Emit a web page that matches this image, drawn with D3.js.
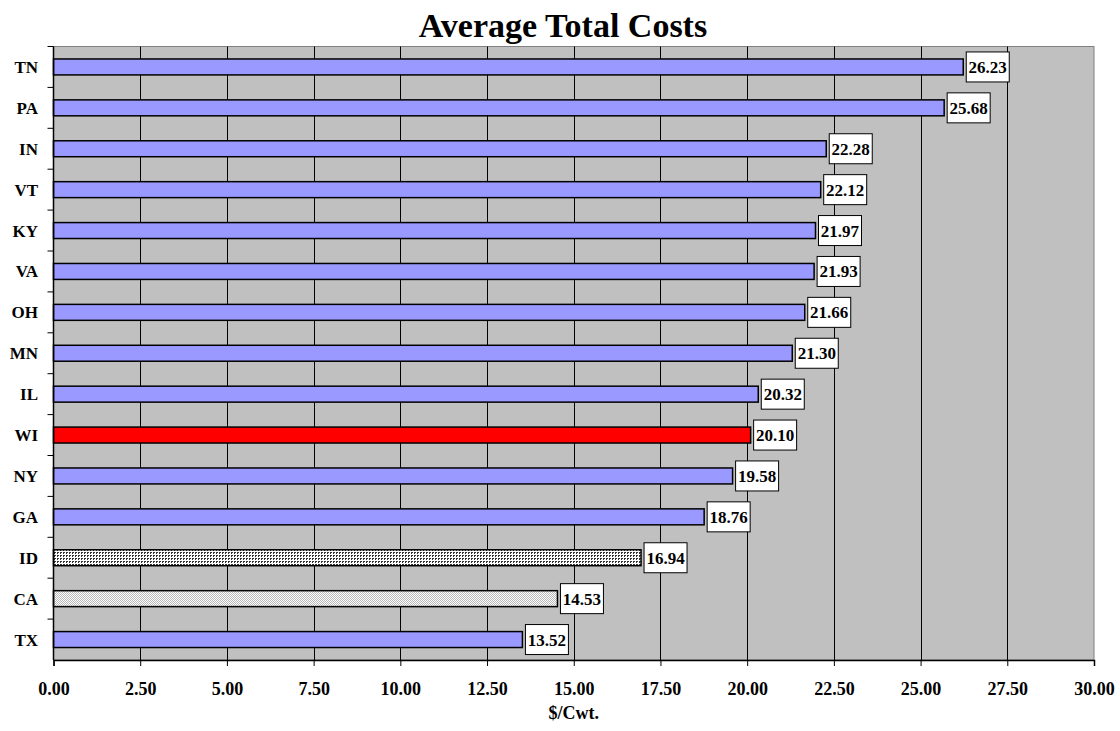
<!DOCTYPE html>
<html>
<head>
<meta charset="utf-8">
<script src="https://cdn.jsdelivr.net/npm/d3@7"></script>
<style>
  body { margin: 0; background: #fff; }
  text { font-family: "Liberation Serif", "Times New Roman", serif; font-weight: bold; fill: #000; }
</style>
</head>
<body>
<div id="chart"></div>
<script>
const states = ["TN", "PA", "IN", "VT", "KY", "VA", "OH", "MN", "IL", "WI", "NY", "GA", "ID", "CA", "TX"];
const costs = [26.23, 25.68, 22.28, 22.12, 21.97, 21.93, 21.66, 21.30, 20.32, 20.10, 19.58, 18.76, 16.94, 14.53, 13.52];
const fills = ["blue", "blue", "blue", "blue", "blue", "blue", "blue", "blue", "blue", "red", "blue", "blue", "dots", "hatch", "blue"];
const xTicks = [0, 2.5, 5, 7.5, 10, 12.5, 15, 17.5, 20, 22.5, 25, 27.5, 30];

const width = 1120, height = 731;
const margin = { top: 46.5, right: 26, bottom: 71, left: 53.5 };

const svg = d3.select("#chart").append("svg")
  .attr("width", width)
  .attr("height", height);

const defs = svg.append("defs");
const dots = defs.append("pattern")
  .attr("id", "dots").attr("patternUnits", "userSpaceOnUse")
  .attr("width", 3).attr("height", 3);
dots.append("rect").attr("width", 3).attr("height", 3).attr("fill", "#fff");
dots.append("rect").attr("width", 2).attr("height", 1).attr("fill", "#333");
dots.append("rect").attr("width", 1).attr("height", 2).attr("fill", "#333");

const hatch = defs.append("pattern")
  .attr("id", "hatch").attr("patternUnits", "userSpaceOnUse")
  .attr("width", 2).attr("height", 2);
hatch.append("rect").attr("width", 2).attr("height", 2).attr("fill", "#fff");
hatch.append("rect").attr("width", 1).attr("height", 1).attr("fill", "#b8b8b8");
hatch.append("rect").attr("x", 1).attr("y", 1).attr("width", 1).attr("height", 1).attr("fill", "#b8b8b8");

const fillColor = { blue: "#9999FF", red: "#FF0000", dots: "url(#dots)", hatch: "url(#hatch)" };

const x = d3.scaleLinear().domain([0, 30]).range([margin.left, width - margin.right]);
const y = d3.scaleBand().domain(states).range([margin.top, height - margin.bottom]).paddingInner(0.61).paddingOuter(0.305);
const band = d3.scaleBand().domain(states).range([margin.top, height - margin.bottom]);

// plot area
svg.append("rect")
  .attr("x", x(0)).attr("y", margin.top)
  .attr("width", x(30) - x(0)).attr("height", height - margin.bottom - margin.top)
  .attr("fill", "#C0C0C0").attr("stroke", "#808080").attr("stroke-width", 1);

// gridlines
svg.append("g").selectAll("line")
  .data(xTicks.slice(1, -1))
  .join("line")
  .attr("x1", d => Math.round(x(d)) + 0.5).attr("x2", d => Math.round(x(d)) + 0.5)
  .attr("y1", margin.top).attr("y2", height - margin.bottom)
  .attr("stroke", "#000").attr("stroke-width", 1);

// bars
svg.append("g").selectAll("rect")
  .data(states)
  .join("rect")
  .attr("x", x(0))
  .attr("y", d => y(d))
  .attr("width", (d, i) => x(costs[i]) - x(0))
  .attr("height", y.bandwidth())
  .attr("fill", (d, i) => fillColor[fills[i]])
  .attr("stroke", "#000").attr("stroke-width", 1.5);

// value labels
const lbl = svg.append("g").selectAll("g")
  .data(states)
  .join("g")
  .attr("transform", (d, i) => `translate(${x(costs[i]) + 3},${y(d) + y.bandwidth() / 2})`);
lbl.append("rect")
  .attr("x", 0).attr("y", -15).attr("width", 43).attr("height", 30)
  .attr("fill", "#fff").attr("stroke", "#000").attr("stroke-width", 1);
lbl.append("text")
  .attr("x", 21.5).attr("y", 6)
  .attr("text-anchor", "middle")
  .style("font-size", "17px")
  .text((d, i) => costs[i].toFixed(2));

// y axis
const yAxis = svg.append("g");
yAxis.append("line")
  .attr("x1", x(0)).attr("x2", x(0))
  .attr("y1", margin.top).attr("y2", height - margin.bottom)
  .attr("stroke", "#000").attr("stroke-width", 1.5);
yAxis.selectAll("line.tick")
  .data(states)
  .join("line").attr("class", "tick")
  .attr("x1", x(0) - 6).attr("x2", x(0))
  .attr("y1", d => band(d)).attr("y2", d => band(d))
  .attr("stroke", "#000").attr("stroke-width", 1);
yAxis.selectAll("text")
  .data(states)
  .join("text")
  .attr("x", 38).attr("y", d => band(d) + band.bandwidth() / 2 + 6)
  .attr("text-anchor", "end")
  .style("font-size", "17px")
  .text(d => d);

// x axis
const xAxis = svg.append("g")
  .attr("transform", `translate(0,${height - margin.bottom})`)
  .call(d3.axisBottom(x).tickValues(xTicks).tickSize(6).tickFormat(d3.format(".2f")));
xAxis.select(".domain").attr("stroke-width", 1.5);
xAxis.selectAll("text")
  .attr("y", 22)
  .style("font-size", "18px")
  .style("font-family", "'Liberation Serif', 'Times New Roman', serif")
  .style("font-weight", "bold");

svg.append("text")
  .attr("x", (x(0) + x(30)) / 2).attr("y", 719)
  .attr("text-anchor", "middle")
  .style("font-size", "18px")
  .text("$/Cwt.");

svg.append("text")
  .attr("x", 563).attr("y", 37)
  .attr("text-anchor", "middle")
  .style("font-size", "34px")
  .text("Average Total Costs");
</script>
</body>
</html>
